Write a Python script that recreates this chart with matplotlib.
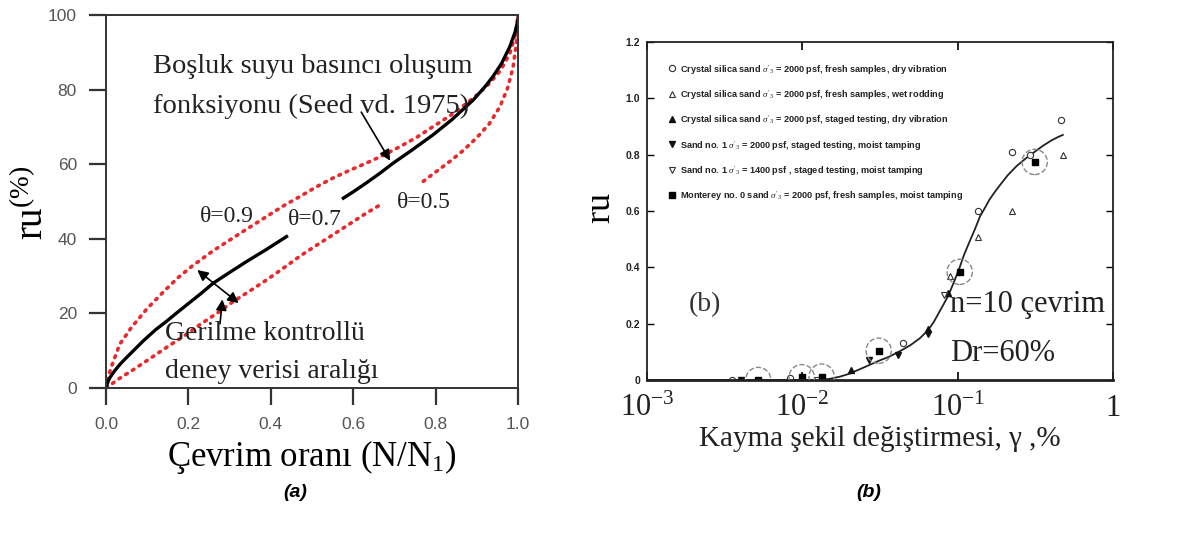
import matplotlib
matplotlib.use("Agg")
import matplotlib.pyplot as plt

plt.rcParams['font.family'] = ['Liberation Serif', 'DejaVu Serif']
plt.rcParams['mathtext.fontset'] = 'custom'
plt.rcParams['mathtext.rm'] = 'Liberation Serif'
plt.rcParams['mathtext.it'] = 'Liberation Serif:italic'
plt.rcParams['mathtext.bf'] = 'Liberation Serif:bold'

# ---- (a) pore pressure generation curves, N/N1 vs ru (%)
theta07_x1 = [0.0, 0.005, 0.01, 0.02, 0.035, 0.05, 0.07, 0.09, 0.12, 0.147, 0.17,
              0.196, 0.23, 0.26, 0.3, 0.341, 0.39, 0.438]
theta07_r1 = [0.0, 1.8, 2.9, 4.5, 6.5, 8.2, 10.4, 12.6, 15.6, 17.9, 20.0,
              22.3, 25.3, 28.1, 31.0, 33.9, 37.2, 40.6]
theta07_x2 = [0.576, 0.6, 0.632, 0.665, 0.697, 0.74, 0.794, 0.84, 0.891, 0.92,
              0.939, 0.96, 0.98, 0.993, 1.0]
theta07_r2 = [50.9, 52.6, 55.0, 57.6, 60.3, 63.6, 67.9, 72.0, 77.2, 80.8,
              83.5, 87.0, 91.5, 95.5, 98.7]

theta09_x = [0.0, 0.005, 0.015, 0.033, 0.062, 0.099, 0.143, 0.175, 0.209, 0.26,
             0.309, 0.35, 0.39, 0.43, 0.47, 0.51,
             0.551, 0.59, 0.632, 0.673, 0.713, 0.754, 0.794, 0.835, 0.875,
             0.905, 0.931, 0.958, 0.98, 0.993, 1.0]
theta09_r = [0.0, 3.0, 6.3, 11.7, 16.3, 21.2, 26.2, 29.6, 32.7, 36.8,
             40.3, 43.2, 46.0, 48.8, 51.3, 53.9,
             56.3, 58.3, 60.3, 62.4, 64.7, 67.2, 70.1, 73.0, 76.3,
             79.0, 81.7, 85.2, 89.7, 94.5, 100.0]

theta05_x1 = [0.0, 0.033, 0.066, 0.1, 0.147, 0.19, 0.228, 0.27, 0.309, 0.35,
              0.39, 0.43, 0.47, 0.51, 0.551, 0.59, 0.632, 0.673]
theta05_r1 = [0.0, 2.6, 4.9, 7.4, 10.9, 14.0, 17.0, 20.1, 23.2, 26.1,
              29.0, 32.1, 35.3, 38.2, 41.1, 43.9, 46.9, 49.6]
theta05_x2 = [0.77, 0.80, 0.834, 0.865, 0.899, 0.93, 0.956, 0.975, 0.988, 0.996, 1.0]
theta05_r2 = [55.4, 57.9, 60.7, 63.5, 67.0, 70.8, 75.4, 80.5, 86.0, 92.5, 100.0]

# ---- (b) shear strain (%) vs ru
fit_g = [0.001, 0.005, 0.01, 0.0125, 0.015, 0.0175, 0.02, 0.025, 0.031, 0.036,
         0.04, 0.045, 0.05, 0.057, 0.064, 0.07, 0.075, 0.081, 0.087, 0.095,
         0.103, 0.11, 0.119, 0.129, 0.139, 0.15, 0.16, 0.172, 0.186, 0.21,
         0.24, 0.275, 0.313, 0.355, 0.40, 0.44, 0.475]
fit_r = [0.0, 0.0, 0.0, 0.0, 0.004, 0.012, 0.022, 0.045, 0.068, 0.082,
         0.095, 0.11, 0.125, 0.148, 0.175, 0.205, 0.235, 0.268, 0.30, 0.35,
         0.40, 0.445, 0.49, 0.535, 0.58, 0.612, 0.64, 0.665, 0.69, 0.727,
         0.76, 0.787, 0.81, 0.832, 0.85, 0.862, 0.87]

cs_fresh_dry_g = [0.0035, 0.0083, 0.0445, 0.1345, 0.225, 0.29, 0.465]
cs_fresh_dry_r = [0.0, 0.008, 0.13, 0.60, 0.81, 0.80, 0.924]
cs_fresh_wet_g = [0.089, 0.136, 0.225, 0.473]
cs_fresh_wet_r = [0.37, 0.506, 0.60, 0.80]
cs_staged_g = [0.0207, 0.0646, 0.087]
cs_staged_r = [0.035, 0.18, 0.31]
sand1_2000_g = [0.0040, 0.027, 0.041, 0.064]
sand1_2000_r = [0.0, 0.07, 0.09, 0.165]
sand1_1400_g = [0.0125, 0.082]
sand1_1400_r = [0.0, 0.30]
monterey_g = [0.0052, 0.0099, 0.0133, 0.031, 0.103, 0.313]
monterey_r = [0.0, 0.01, 0.012, 0.104, 0.384, 0.774]

legend_labels = [
    r"Crystal silica sand $\sigma'_3$ = 2000 psf, fresh samples, dry vibration",
    r"Crystal silica sand $\sigma'_3$ = 2000 psf, fresh samples, wet rodding",
    r"Crystal silica sand $\sigma'_3$ = 2000 psf, staged testing, dry vibration",
    r"Sand no. 1 $\sigma'_3$ = 2000 psf, staged testing, moist tamping",
    r"Sand no. 1 $\sigma'_3$ = 1400 psf , staged testing, moist tamping",
    r"Monterey no. 0 sand $\sigma'_3$ = 2000 psf, fresh samples, moist tamping",
]

fig = plt.figure(figsize=(11.89, 5.34), dpi=100)
ax1 = fig.add_axes([0.0892, 0.2734, 0.3465, 0.6985])
ax2 = fig.add_axes([0.5442, 0.2884, 0.3919, 0.6330])

# ---------------- panel (a)
red = '#e8282b'
dot = dict(color=red, lw=2.6, linestyle=(0, (0.5, 1.7)), dash_capstyle='round')
ax1.plot(theta09_x, theta09_r, **dot)
ax1.plot(theta05_x1, theta05_r1, **dot)
ax1.plot(theta05_x2, theta05_r2, **dot)
ax1.plot(theta07_x1, theta07_r1, color='black', lw=2.4)
ax1.plot(theta07_x2, theta07_r2, color='black', lw=2.4)

ax1.set_xlim(0, 1)
ax1.set_ylim(0, 100)
ax1.set_xticks([0, 0.2, 0.4, 0.6, 0.8, 1.0],
               labels=['0.0', '0.2', '0.4', '0.6', '0.8', '1.0'],
               fontfamily='Liberation Sans')
ax1.set_yticks([0, 20, 40, 60, 80, 100],
               labels=['0', '20', '40', '60', '80', '100'],
               fontfamily='Liberation Sans')
ax1.tick_params(direction='out', length=12, width=1.6, color='#333',
                labelsize=12.5, labelcolor='#555', pad=9)
for s in ax1.spines.values():
    s.set_linewidth(1.4)
    s.set_color('#333')

ax1.text(0.115, 86.2, 'Boşluk suyu basıncı oluşum', fontsize=20.5,
         va='center', ha='left', color='#222')
ax1.text(0.115, 75.4, 'fonksiyonu (Seed vd. 1975)', fontsize=20.5,
         va='center', ha='left', color='#222')
ax1.annotate('', xy=(0.693, 60.3), xytext=(0.616, 74.6),
             arrowprops=dict(arrowstyle='-|>', color='black', lw=1.2,
                             mutation_scale=16))
ax1.text(0.228, 46, 'θ=0.9', fontsize=17, va='center', ha='left', color='#222')
ax1.text(0.442, 45.3, 'θ=0.7', fontsize=17, va='center', ha='left', color='#222')
ax1.text(0.705, 49.6, 'θ=0.5', fontsize=17, va='center', ha='left', color='#222')
ax1.annotate('', xy=(0.216, 32.1), xytext=(0.327, 22.3),
             arrowprops=dict(arrowstyle='<|-|>', color='black', lw=1.2,
                             mutation_scale=16))
ax1.annotate('', xy=(0.283, 24.5), xytext=(0.276, 16.5),
             arrowprops=dict(arrowstyle='-|>', color='black', lw=1.2,
                             mutation_scale=16))
ax1.text(0.143, 14.7, 'Gerilme kontrollü', fontsize=20, va='center', ha='left',
         color='#222')
ax1.text(0.143, 4.5, 'deney verisi aralığı', fontsize=20, va='center', ha='left',
         color='#222')

ax1.set_xlabel('Çevrim oranı (N/N$_1$)', fontsize=25, labelpad=4)
fig.text(0.028, 0.62, r'$\mathrm{ru}^{(\%)}$', rotation=90, fontsize=28,
         ha='center', va='center')

# ---------------- panel (b)
ax2.set_xscale('log')
ax2.plot(fit_g, fit_r, color='#222', lw=1.3)
ms = 4.5
ax2.plot(cs_fresh_dry_g, cs_fresh_dry_r, 'o', mfc='white', mec='#333', ms=ms,
         mew=0.8, label=legend_labels[0])
ax2.plot(cs_fresh_wet_g, cs_fresh_wet_r, '^', mfc='white', mec='#333', ms=ms,
         mew=0.8, label=legend_labels[1])
ax2.plot(cs_staged_g, cs_staged_r, '^', color='#111', ms=ms,
         label=legend_labels[2])
ax2.plot(sand1_2000_g, sand1_2000_r, 'v', color='#111', ms=ms,
         label=legend_labels[3])
ax2.plot(sand1_1400_g, sand1_1400_r, 'v', mfc='white', mec='#333', ms=ms,
         mew=0.8, label=legend_labels[4])
ax2.plot(monterey_g, monterey_r, 's', color='black', ms=ms + 0.5,
         label=legend_labels[5])
ax2.scatter(monterey_g, monterey_r, s=330, facecolors='none',
            edgecolors='#888', linewidths=1.0, linestyle='--', zorder=3)

ax2.set_xlim(1e-3, 1)
ax2.set_ylim(0, 1.2)
ax2.minorticks_off()
ax2.set_xticks([1e-3, 1e-2, 1e-1, 1],
               labels=[r'$10^{-3}$', r'$10^{-2}$', r'$10^{-1}$', '1'])
ax2.set_yticks([0, 0.2, 0.4, 0.6, 0.8, 1.0, 1.2],
               labels=['0', '0.2', '0.4', '0.6', '0.8', '1.0', '1.2'],
               fontfamily='Liberation Sans', fontweight='bold')
ax2.tick_params(axis='x', direction='in', length=6, width=1.2, top=True,
                labelsize=22, labelcolor='#222', pad=10)
ax2.tick_params(axis='y', direction='in', length=5, width=1.0, right=True,
                labelsize=7.5, labelcolor='#222', pad=5)
for s in ax2.spines.values():
    s.set_linewidth(1.3)
    s.set_color('#222')
ax2.spines['bottom'].set_linewidth(2.0)

leg = ax2.legend(loc='upper left', bbox_to_anchor=(0.035, 0.95), frameon=False,
                 prop={'family': 'Liberation Sans', 'weight': 'bold', 'size': 6.6},
                 labelspacing=1.35, handletextpad=0.4, handlelength=1.0,
                 borderaxespad=0.0)
for t in leg.get_texts():
    t.set_color('#222')

ax2.text(0.00236, 0.268, '(b)', fontsize=20, va='center', ha='center',
         color='#333')
ax2.text(0.089, 0.268, 'n=10 çevrim', fontsize=22, va='center', ha='left',
         color='#222')
ax2.text(0.089, 0.094, 'Dr=60%', fontsize=22, va='center', ha='left',
         color='#222')

ax2.set_xlabel('Kayma şekil değiştirmesi, γ ,%', fontsize=21, labelpad=2,
               color='#222')
fig.text(0.506, 0.61, r'$\mathrm{ru}$', rotation=90, fontsize=26,
         ha='center', va='center')

fig.text(0.248, 0.078, '(a)', fontsize=14, fontweight='bold', style='italic',
         family='Liberation Sans', ha='center', va='center')
fig.text(0.731, 0.078, '(b)', fontsize=14, fontweight='bold', style='italic',
         family='Liberation Sans', ha='center', va='center')

fig.savefig('out.png', dpi=100)
